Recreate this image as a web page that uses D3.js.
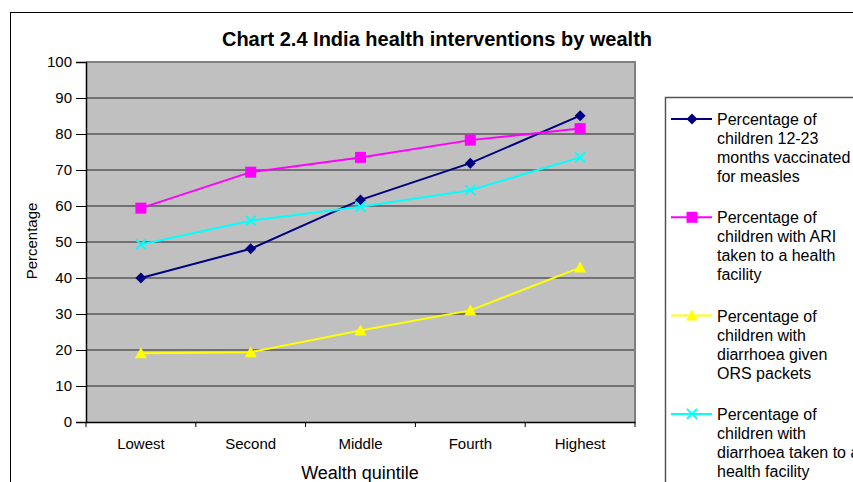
<!DOCTYPE html>
<html>
<head>
<meta charset="utf-8">
<script src="https://cdn.jsdelivr.net/npm/d3@7"></script>
<style>
  html, body { margin: 0; padding: 0; background: #fff; }
  svg { display: block; font-family: Arial, "Liberation Sans", sans-serif; }
</style>
</head>
<body>
<svg id="chart" width="853" height="482"></svg>
<script>
// Wealth quintiles on the x axis
const quintiles = ["Lowest", "Second", "Middle", "Fourth", "Highest"];

// Percentages per quintile for each intervention
const measlesVaccinated = [40.0, 48.1, 61.7, 71.9, 85.1];
const ariHealthFacility = [59.4, 69.4, 73.5, 78.3, 81.5];
const diarrhoeaOrs = [19.1, 19.4, 25.4, 31.0, 42.9];
const diarrhoeaHealthFacility = [49.3, 55.9, 59.8, 64.4, 73.5];

const yTicks = [0, 10, 20, 30, 40, 50, 60, 70, 80, 90, 100];

const seriesNames = [
  ["Percentage of", "children 12-23", "months vaccinated", "for measles"],
  ["Percentage of", "children with ARI", "taken to a health", "facility"],
  ["Percentage of", "children with", "diarrhoea given", "ORS packets"],
  ["Percentage of", "children with", "diarrhoea taken to a", "health facility"]
];
const seriesColors = ["#000080", "#FF00FF", "#FFFF00", "#00FFFF"];
const seriesMarkers = ["diamond", "square", "triangle", "cross"];
const seriesValues = [measlesVaccinated, ariHealthFacility, diarrhoeaOrs, diarrhoeaHealthFacility];

const svg = d3.select("#chart");

// Outer chart frame
svg.append("rect")
  .attr("x", 10.5).attr("y", 12.5)
  .attr("width", 900).attr("height", 500)
  .attr("fill", "#fff").attr("stroke", "#000").attr("stroke-width", 1);

const plot = { left: 86, right: 635, top: 62, bottom: 422 };

const x = d3.scaleBand().domain(quintiles).range([plot.left, plot.right]).padding(0);
const y = d3.scaleLinear().domain([0, 100]).range([plot.bottom, plot.top]);
const cx = c => x(c) + x.bandwidth() / 2;

// Plot background
svg.append("rect")
  .attr("x", plot.left).attr("y", plot.top)
  .attr("width", plot.right - plot.left).attr("height", plot.bottom - plot.top)
  .attr("fill", "#C0C0C0");

// Horizontal gridlines
svg.append("g")
  .selectAll("line")
  .data(yTicks.filter(v => v > 0 && v < 100))
  .join("line")
  .attr("x1", plot.left).attr("x2", plot.right)
  .attr("y1", d => y(d)).attr("y2", d => y(d))
  .attr("stroke", "#222").attr("stroke-width", 1);

// Plot frame (top and right in grey)
svg.append("path")
  .attr("d", `M${plot.left},${plot.top}H${plot.right}V${plot.bottom}`)
  .attr("fill", "none").attr("stroke", "#808080").attr("stroke-width", 2);

// Y axis
const yAxis = svg.append("g")
  .attr("transform", `translate(${plot.left},0)`)
  .call(d3.axisLeft(y).tickValues(yTicks).tickSize(10).tickPadding(4).tickFormat(d3.format("d")));
yAxis.select(".domain").attr("stroke", "#000").attr("stroke-width", 1.5);
yAxis.selectAll(".tick line").attr("stroke", "#000");
yAxis.selectAll(".tick text")
  .attr("font-size", 15).attr("fill", "#000")
  .attr("font-family", "Arial, 'Liberation Sans', sans-serif");

// X axis: labels centred in each band, tick marks on band boundaries
const xAxis = svg.append("g")
  .attr("transform", `translate(0,${plot.bottom})`)
  .call(d3.axisBottom(x).tickSize(0).tickPadding(16));
xAxis.select(".domain").attr("stroke", "#000").attr("stroke-width", 1.5);
xAxis.selectAll(".tick text")
  .attr("font-size", 15).attr("fill", "#000")
  .attr("font-family", "Arial, 'Liberation Sans', sans-serif");
const boundaries = quintiles.map(c => x(c)).concat([x.range()[1]]);
svg.append("g")
  .selectAll("line")
  .data(boundaries)
  .join("line")
  .attr("x1", d => d).attr("x2", d => d)
  .attr("y1", plot.bottom).attr("y2", plot.bottom + 5)
  .attr("stroke", "#000");

// Titles
svg.append("text")
  .attr("x", 437).attr("y", 46)
  .attr("text-anchor", "middle")
  .attr("font-size", 20).attr("font-weight", "bold")
  .text("Chart 2.4 India health interventions by wealth");

svg.append("text")
  .attr("x", 360).attr("y", 479)
  .attr("text-anchor", "middle")
  .attr("font-size", 18)
  .text("Wealth quintile");

svg.append("text")
  .attr("transform", "translate(37,241) rotate(-90)")
  .attr("text-anchor", "middle")
  .attr("font-size", 15)
  .text("Percentage");

// Marker shapes
function drawMarker(g, type, color) {
  if (type === "diamond") {
    g.append("path").attr("d", "M0,-5.5L5.5,0L0,5.5L-5.5,0Z").attr("fill", color);
  } else if (type === "square") {
    g.append("rect").attr("x", -5.5).attr("y", -5.5).attr("width", 11).attr("height", 11).attr("fill", color);
  } else if (type === "triangle") {
    g.append("path").attr("d", "M0,-6L6,5L-6,5Z").attr("fill", color);
  } else if (type === "cross") {
    g.append("path").attr("d", "M-5,-5L5,5M-5,5L5,-5").attr("stroke", color).attr("stroke-width", 2);
  }
}

const line = d3.line().x((d, i) => cx(quintiles[i])).y(d => y(d));

seriesValues.forEach((vals, s) => {
  const g = svg.append("g");
  g.append("path")
    .datum(vals)
    .attr("d", line)
    .attr("fill", "none")
    .attr("stroke", seriesColors[s])
    .attr("stroke-width", 2);
  g.selectAll("g.pt")
    .data(vals)
    .join("g")
    .attr("class", "pt")
    .attr("transform", (d, i) => `translate(${cx(quintiles[i])},${y(d)})`)
    .each(function () { drawMarker(d3.select(this), seriesMarkers[s], seriesColors[s]); });
});

// Legend
const legend = svg.append("g");
legend.append("rect")
  .attr("x", 665.5).attr("y", 97.5)
  .attr("width", 300).attr("height", 500)
  .attr("fill", "#fff").attr("stroke", "#555").attr("stroke-width", 1.5);

const legendTop = 125, entryGap = 98.3, lineGap = 19;
seriesNames.forEach((lines, s) => {
  const base = legendTop + s * entryGap;
  const g = legend.append("g");
  g.append("line")
    .attr("x1", 671).attr("x2", 712)
    .attr("y1", base - 6).attr("y2", base - 6)
    .attr("stroke", seriesColors[s]).attr("stroke-width", 2);
  const m = g.append("g").attr("transform", `translate(692,${base - 6})`);
  drawMarker(m, seriesMarkers[s], seriesColors[s]);
  const t = g.append("text").attr("x", 717).attr("y", base).attr("font-size", 16);
  lines.forEach((ln, i) => {
    t.append("tspan").attr("x", 717).attr("y", base + i * lineGap).text(ln);
  });
});
</script>
</body>
</html>
